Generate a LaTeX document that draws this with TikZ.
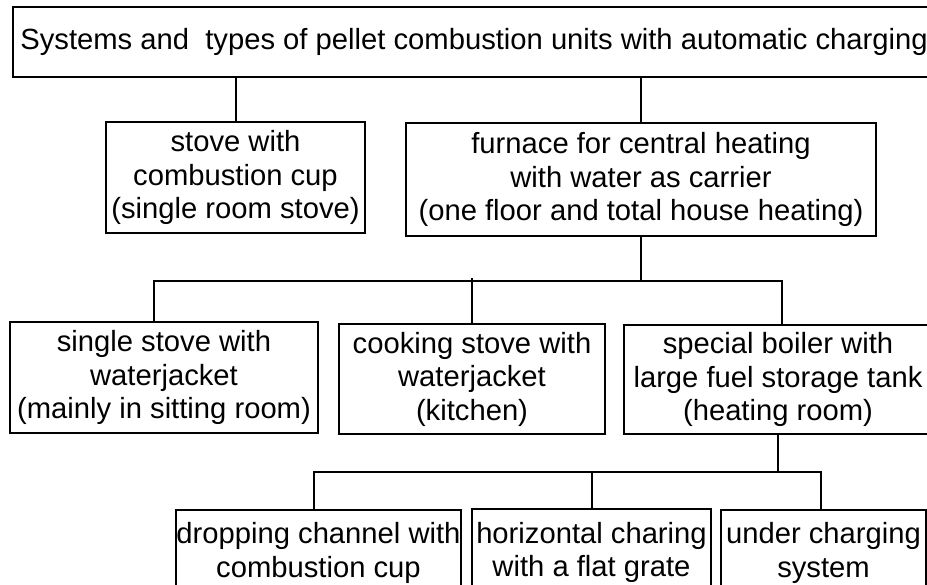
\documentclass[tikz,border=0pt]{standalone}
\usepackage{fontspec}
\setmainfont{Liberation Sans}
\tikzset{unit/.style={draw, line width=2pt, align=center, inner sep=0pt, font=\fontsize{29.2}{33.5}\selectfont}}
\begin{document}
\begin{tikzpicture}[x=1pt, y=-1pt, line width=2pt]
    \clip (0,0) rectangle (927,585);
    \node[unit, minimum width=922pt, minimum height=70pt] (a) at (474,42) {Systems and \ types of pellet combustion units with automatic charging};
    \node[unit, minimum width=259pt, minimum height=111pt] (b) at (235.5,177.5) {stove with\\combustion cup\\(single room stove)};
    \node[unit, minimum width=470pt, minimum height=113pt] (c) at (641,179.5) {furnace for central heating\\with water as carrier\\(one floor and total house heating)};
    \node[unit, minimum width=308pt, minimum height=111pt] (d) at (164,377.5) {single stove with\\waterjacket\\(mainly in sitting room)};
    \node[unit, minimum width=266pt, minimum height=110pt] (e) at (472,379) {cooking stove with\\waterjacket\\(kitchen)};
    \node[unit, minimum width=308pt, minimum height=109pt] (f) at (778,379.5) {special boiler with\\large fuel storage tank\\(heating room)};
    \node[unit, minimum width=277pt, minimum height=86pt] (g) at (318.5,553) {dropping channel with\\combustion cup};
    \node[unit, minimum width=239pt, minimum height=87pt] (h) at (591.5,552.5) {horizontal charing\\with a flat grate};
    \node[unit, minimum width=205pt, minimum height=86pt] (i) at (823.5,553) {under charging\\system};
    \coordinate (p1) at (154,281);
    \coordinate (p2) at (782,281);
    \coordinate (q1) at (314,472);
    \coordinate (q2) at (821,472);
    \foreach \u/\v in {a/b,a/c} { \draw (a.south -| \v.north) -- (\v.north); }
    \draw (c.south) -- (c.south |- p1);
    \draw (p1 |- d.north) -- (p1) -- (p2) -- (p2 |- f.north);
    \draw (e.north) -- ([yshift=3pt]e.north |- p1);
    \draw (f.south) -- (f.south |- q1);
    \draw (q1 |- g.north) -- (q1) -- (q2) -- (q2 |- i.north);
    \draw (h.north) -- (h.north |- q1);
  \end{tikzpicture}
\end{document}
